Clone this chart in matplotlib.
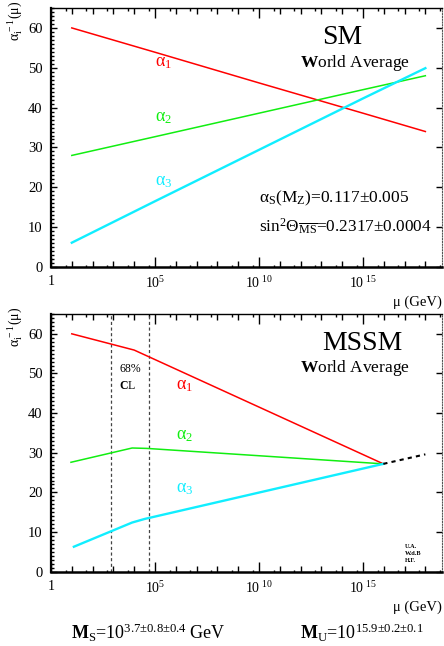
import numpy as np
import matplotlib
matplotlib.use("Agg")
import matplotlib.pyplot as plt
from matplotlib.ticker import FixedLocator, FuncFormatter, MultipleLocator

plt.rcParams['font.family'] = ['Liberation Serif', 'DejaVu Serif']
plt.rcParams['mathtext.fontset'] = 'custom'
plt.rcParams['mathtext.rm'] = 'Liberation Serif'
plt.rcParams['mathtext.it'] = 'Liberation Serif:italic'
plt.rcParams['mathtext.bf'] = 'Liberation Serif:bold'

# data: x given as log10(mu / GeV), y = 1/alpha_i
sm_exp = [1, 5, 10, 15, 18]
sm_a1 = [60.0, 53.9, 46.2, 38.6, 34.0]
sm_a2 = [28.0, 32.7, 38.6, 44.5, 48.0]
sm_a3 = [6.1, 16.5, 29.4, 42.3, 49.9]

mssm_exp1 = [1.0, 4.0, 15.98]
mssm_a1 = [60.0, 55.9, 27.2]
mssm_exp2 = [0.96, 3.9, 4.6, 15.98]
mssm_a2 = [27.6, 31.2, 31.1, 27.2]
mssm_exp3 = [1.1, 3.9, 4.5, 15.98]
mssm_a3 = [6.3, 12.4, 13.3, 27.2]
ext_exp = [15.98, 18.0]
ext_a = [27.2, 29.6]

ms_band = [2.9, 4.7]

RED = '#ff0000'
GREEN = '#11ee11'
CYAN = '#11eeff'

W, H = 444, 646
fig = plt.figure(figsize=(W / 100, H / 100), dpi=100)


def frac(x0, y0, x1, y1):
    return [x0 / W, 1 - y1 / H, (x1 - x0) / W, (y1 - y0) / H]


ax1 = fig.add_axes(frac(51, 8, 442, 267))
ax2 = fig.add_axes(frac(51, 314, 442, 571.7))


def labfmt(v, pos):
    e = int(round(np.log10(v)))
    if e == 0:
        return '1'
    if e == 5:
        return r'$10^{5}$'
    if e in (10, 15):
        return r'$10^{\ %d}$' % e
    return ''


def style(ax):
    ax.set_xscale('log')
    ax.set_xlim(1, 10 ** 18.8)
    ax.set_ylim(0, 65)
    ax.xaxis.set_major_locator(FixedLocator(10.0 ** np.arange(0, 19)))
    ax.xaxis.set_minor_locator(FixedLocator(5 * 10.0 ** np.arange(0, 19)))
    ax.xaxis.set_major_formatter(FuncFormatter(labfmt))
    ax.xaxis.set_minor_formatter(FuncFormatter(lambda v, p: ''))
    ax.yaxis.set_major_locator(MultipleLocator(10))
    ax.yaxis.set_minor_locator(MultipleLocator(1))
    ax.tick_params(axis='x', which='major', direction='in', top=True,
                   length=4, width=1, labelsize=10, pad=6)
    ax.tick_params(axis='x', which='minor', direction='in', top=True,
                   length=1.8, width=1)
    ax.tick_params(axis='y', which='major', direction='in', right=True,
                   length=4.3, width=1, labelsize=10.5, pad=6)
    ax.tick_params(axis='y', which='minor', direction='in', right=False,
                   length=2.2, width=1)
    locs = ax.xaxis.get_majorticklocs()
    for loc, t in zip(locs, ax.xaxis.get_major_ticks(len(locs))):
        if int(round(np.log10(loc))) % 5 == 0:
            t.tick1line.set_markersize(7.2)
            t.tick2line.set_markersize(7.2)
    ax.spines['left'].set_linewidth(1.6)
    ax.spines['bottom'].set_linewidth(1.8)
    ax.spines['top'].set_linewidth(1.0)
    ax.spines['right'].set_linestyle((0, (1, 1.5)))
    ax.spines['right'].set_color('#555555')
    ax.spines['right'].set_linewidth(0.8)


mu = lambda e: 10.0 ** np.asarray(e, dtype=float)

# SM panel
style(ax1)
ax1.plot(mu(sm_exp), sm_a1, color=RED, lw=1.1)
ax1.plot(mu(sm_exp), sm_a2, color=GREEN, lw=1.1)
ax1.plot(mu(sm_exp), sm_a3, color=CYAN, lw=1.7)
ax1.text(mu(5.0), 51.3, r'$\mathrm{α_1}$', color=RED, fontsize=13, va='center')
ax1.text(mu(5.0), 37.4, r'$\mathrm{α_2}$', color=GREEN, fontsize=13, va='center')
ax1.text(mu(5.0), 21.4, r'$\mathrm{α_3}$', color=CYAN, fontsize=13, va='center')
ax1.text(mu(14.0), 57.5, 'SM', fontsize=20, ha='center', va='center')
ax1.text(mu(14.64), 51.3, r'$\mathbf{W}$orld Average', fontsize=12.5,
         ha='center', va='center')
ax1.text(mu(10.0), 17.3, r'$\mathrm{α_S(M_Z)}$=0.117±0.005', fontsize=12.5,
         va='center')
ax1.text(mu(10.0), 10.2, r'sin$^2$Θ$_{\mathrm{\overline{MS}}}$=0.2317±0.0004',
         fontsize=12.4, va='center')

# MSSM panel
style(ax2)
for e in ms_band:
    ax2.axvline(mu(e), color='#444444', lw=0.9, ls=(0, (2.5, 2)))
ax2.plot(mu(mssm_exp1), mssm_a1, color=RED, lw=1.1)
ax2.plot(mu(mssm_exp2), mssm_a2, color=GREEN, lw=1.1)
ax2.plot(mu(mssm_exp3), mssm_a3, color=CYAN, lw=1.7)
ax2.plot(mu(ext_exp), ext_a, color='black', lw=1.5, ls=(0, (2, 2)))
ax2.text(mu(6.0), 47.0, r'$\mathrm{α_1}$', color=RED, fontsize=13, va='center')
ax2.text(mu(6.0), 34.4, r'$\mathrm{α_2}$', color=GREEN, fontsize=13, va='center')
ax2.text(mu(6.0), 21.1, r'$\mathrm{α_3}$', color=CYAN, fontsize=13, va='center')
ax2.text(mu(14.95), 57.6, 'MSSM', fontsize=20, ha='center', va='center')
ax2.text(mu(14.64), 51.3, r'$\mathbf{W}$orld Average', fontsize=12.5,
         ha='center', va='center')
ax2.text(mu(3.27), 51.1, '68%', fontsize=8.5, va='center')
ax2.text(mu(3.27), 46.8, r'$\mathbf{C}$L', fontsize=8.5, va='center')
ax2.text(mu(17.0), 6.4, 'U.A.', fontsize=4.5, fontweight='bold', va='center')
ax2.text(mu(17.0), 4.6, 'W.d.B', fontsize=4.5, fontweight='bold', va='center')
ax2.text(mu(17.0), 2.7, 'H.F.', fontsize=4.5, fontweight='bold', va='center')

# labels in pixel positions
ylab = r'$\mathrm{α_i^{\,-1}(μ)}$'
fig.text(15 / W, 1 - 41 / H, ylab, rotation=90, fontsize=10,
         ha='center', va='bottom')
fig.text(15 / W, 1 - 347 / H, ylab, rotation=90, fontsize=10,
         ha='center', va='bottom')
fig.text(442 / W, 1 - 302 / H, 'μ (GeV)', fontsize=10.5, ha='right',
         va='center')
fig.text(442 / W, 1 - 607 / H, 'μ (GeV)', fontsize=10.5, ha='right',
         va='center')
fig.text(71 / W, 1 - 633 / H,
         r'$\mathbf{M}_\mathrm{S}$=10$^{3.7±0.8±0.4}$ GeV',
         fontsize=13, va='center')
fig.text(300 / W, 1 - 633 / H,
         r'$\mathbf{M}_\mathrm{U}$=10$^{15.9±0.2±0.1}$',
         fontsize=13, va='center')

fig.savefig('out.png', dpi=100)
